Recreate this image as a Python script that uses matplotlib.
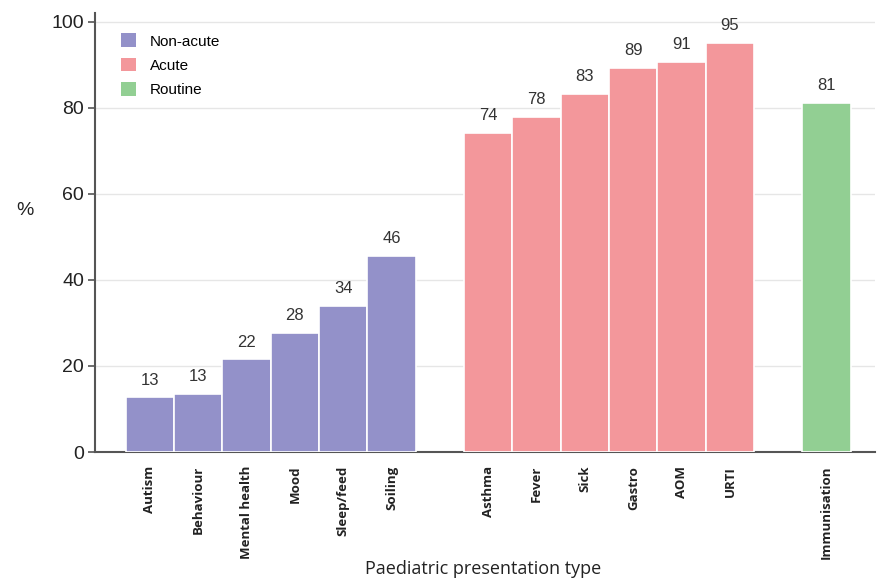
import matplotlib
matplotlib.use("Agg", force=True)

import matplotlib.pyplot as plt
from matplotlib.patches import Patch

plt.rcParams["font.family"] = ["Liberation Sans", "DejaVu Sans"]

categories = ["Autism", "Behaviour", "Mental health", "Mood", "Sleep/feed", "Soiling",
              "Asthma", "Fever", "Sick", "Gastro", "AOM", "URTI",
              "Immunisation"]
groups = ["Non-acute"] * 6 + ["Acute"] * 6 + ["Routine"]
values = [12.7, 13.5, 21.6, 27.7, 34.0, 45.6,
          74.2, 77.9, 83.3, 89.3, 90.7, 95.1,
          81.2]
labels = ["13", "13", "22", "28", "34", "46",
          "74", "78", "83", "89", "91", "95",
          "81"]
positions = [0, 1, 2, 3, 4, 5, 7, 8, 9, 10, 11, 12, 14]

colors = {"Non-acute": "#9391c9", "Acute": "#f3979b", "Routine": "#92cf93"}

fig = plt.figure(figsize=(8.82, 5.79), dpi=100)
ax = fig.add_axes([0.108, 0.2193, 0.884, 0.758])

bar_colors = [colors[g] for g in groups]
ax.bar(positions, values, width=1.0, color=bar_colors, edgecolor="white",
       linewidth=1.2, zorder=3)

for x, v, lab in zip(positions, values, labels):
    ax.text(x, v + 2.2, lab, ha="center", va="bottom", fontsize=12,
            color="#333333", zorder=4)

ax.set_xlim(-1.13, 15.0)
ax.set_ylim(0, 102)
ax.set_yticks([0, 20, 40, 60, 80, 100])
ax.tick_params(axis="y", labelsize=14, length=5, width=1.2, color="#555555",
               labelcolor="#222222", pad=3)
ax.set_xticks(positions)
ax.set_xticklabels(categories, rotation=90, fontsize=9.5, fontweight="bold",
                   family="Open Sans", color="#222222")
ax.tick_params(axis="x", length=0, pad=10)

ax.yaxis.grid(True, color="#e6e6e6", linewidth=1.0, zorder=0)
ax.set_axisbelow(True)
for side in ["top", "right"]:
    ax.spines[side].set_visible(False)
ax.spines["left"].set_color("#555555")
ax.spines["left"].set_linewidth(1.5)
ax.spines["bottom"].set_color("#555555")
ax.spines["bottom"].set_linewidth(1.5)

ax.set_ylabel("%", rotation=0, fontsize=14, color="#222222")
ax.yaxis.set_label_coords(-0.09, 0.53)
fig.text(0.548, 0.002, "Paediatric presentation type", ha="center", va="bottom",
         fontsize=13, family="Open Sans", color="#222222")

handles = [Patch(facecolor=colors[k], edgecolor="none") for k in ["Non-acute", "Acute", "Routine"]]
ax.legend(handles, ["Non-acute", "Acute", "Routine"], loc="upper left",
          bbox_to_anchor=(0.015, 0.985), frameon=False, fontsize=11,
          handlelength=1.0, handleheight=1.0, handletextpad=0.9, labelspacing=0.6)

fig.savefig("out.png", dpi=100)
